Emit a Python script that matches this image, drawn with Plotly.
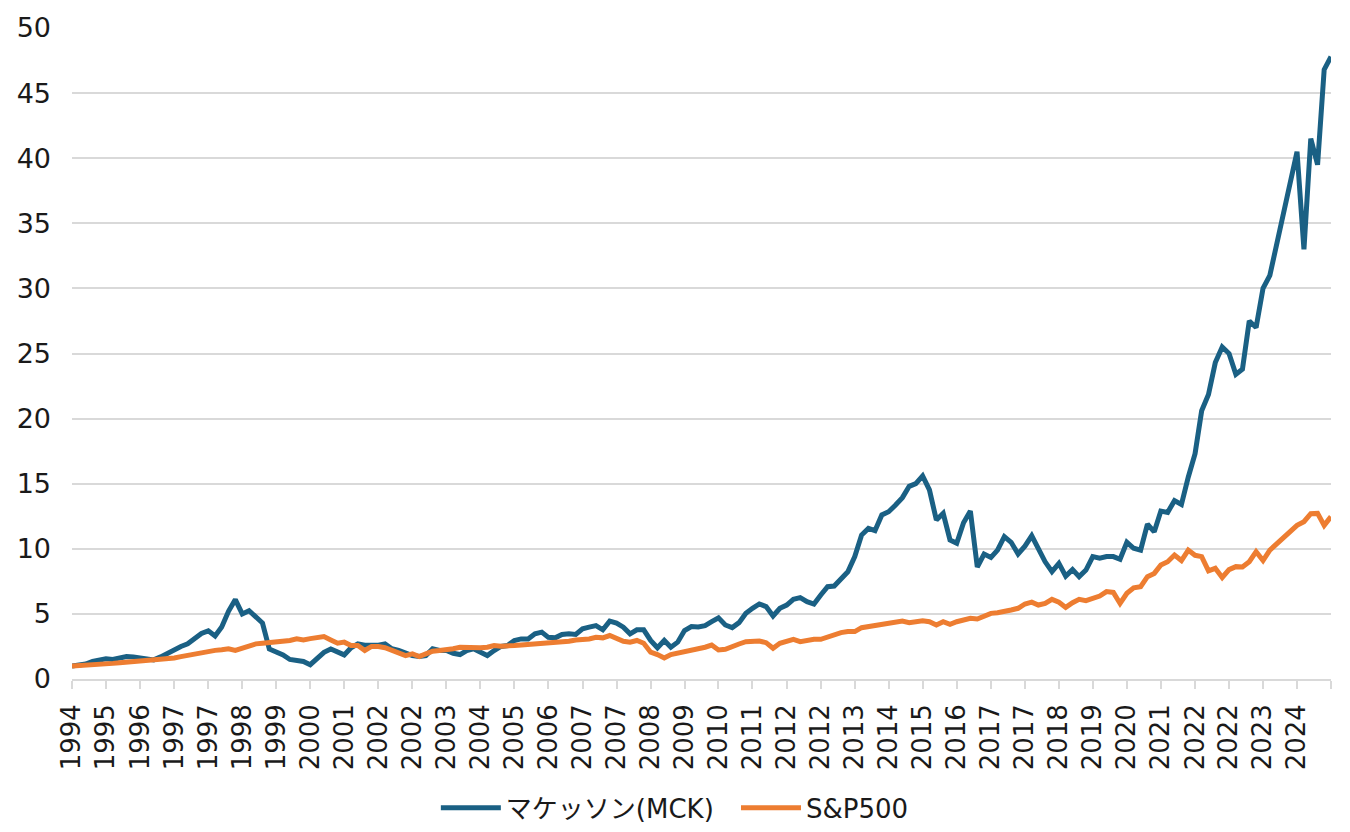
import pandas as pd
import plotly.graph_objects as go

# Bi-monthly samples, Jul 1994 -> May 2025 (normalised, start = 1)
mck = [
    1.00, 1.05, 1.15, 1.35, 1.45, 1.55, 1.50, 1.60, 1.73, 1.70,
    1.62, 1.60, 1.47, 1.70, 2.00, 2.20, 2.50, 2.70, 3.10, 3.50,
    3.70, 3.30, 4.00, 5.20, 6.10, 5.00, 5.25, 4.80, 4.30, 2.30,
    2.10, 1.85, 1.50, 1.45, 1.35, 1.10, 1.60, 2.05, 2.30, 2.06,
    1.85, 2.40, 2.70, 2.60, 2.60, 2.60, 2.70, 2.32, 2.19, 1.98,
    1.80, 1.73, 1.80, 2.32, 2.19, 2.19, 1.98, 1.88, 2.19, 2.32,
    2.06, 1.80, 2.19, 2.50, 2.57, 2.96, 3.08, 3.08, 3.47, 3.60,
    3.20, 3.16, 3.42, 3.47, 3.42, 3.85, 3.98, 4.10, 3.78, 4.44,
    4.29, 3.98, 3.47, 3.78, 3.78, 2.96, 2.40, 2.96, 2.44, 2.83,
    3.72, 4.03, 4.00, 4.10, 4.40, 4.70, 4.15, 3.95, 4.33, 5.04,
    5.43, 5.76, 5.56, 4.84, 5.43, 5.68, 6.12, 6.25, 5.94, 5.76,
    6.45, 7.09, 7.14, 7.73, 8.24, 9.40, 11.06, 11.57, 11.39, 12.60,
    12.85, 13.36, 13.93, 14.80, 15.00, 15.60, 14.52, 12.21, 12.72, 10.68,
    10.42, 12.00, 12.90, 8.60, 9.60, 9.34, 9.90, 10.93, 10.50, 9.60,
    10.20, 11.00, 10.00, 9.00, 8.24, 8.88, 7.90, 8.40, 7.86, 8.37,
    9.40, 9.27, 9.40, 9.40, 9.20, 10.50, 10.04, 9.90, 11.90, 11.30,
    12.90, 12.80, 13.70, 13.40, 15.50, 17.30, 20.60, 21.85, 24.30, 25.50,
    25.00, 23.40, 23.80, 27.50, 27.00, 30.00, 31.00, 33.50, 35.70, 38.00,
    40.50, 33.00, 41.50, 39.50, 46.80, 47.80,
]

sp500 = [
    1.00, 1.02, 1.05, 1.08, 1.12, 1.16, 1.20, 1.25, 1.30, 1.34,
    1.37, 1.38, 1.42, 1.48, 1.55, 1.62, 1.72, 1.83, 1.93, 2.00,
    2.14, 2.20, 2.25, 2.32, 2.19, 2.35, 2.57, 2.70, 2.75, 2.80,
    2.83, 2.87, 2.96, 3.08, 3.00, 3.10, 3.16, 3.26, 3.00, 2.75,
    2.83, 2.57, 2.57, 2.19, 2.50, 2.50, 2.40, 2.19, 1.93, 1.80,
    1.93, 1.73, 1.93, 2.14, 2.19, 2.24, 2.32, 2.44, 2.40, 2.40,
    2.40, 2.44, 2.57, 2.52, 2.50, 2.57, 2.62, 2.65, 2.70, 2.75,
    2.75, 2.75, 2.83, 2.90, 3.00, 3.00, 3.08, 3.20, 3.16, 3.34,
    3.16, 2.90, 2.83, 2.96, 2.75, 2.06, 1.88, 1.62, 1.88, 1.98,
    2.14, 2.24, 2.32, 2.44, 2.61, 2.23, 2.28, 2.53, 2.69, 2.87,
    2.92, 2.92, 2.79, 2.36, 2.74, 2.87, 3.05, 2.87, 3.00, 3.05,
    3.05, 3.25, 3.38, 3.56, 3.64, 3.64, 3.94, 4.02, 4.15, 4.20,
    4.28, 4.33, 4.45, 4.33, 4.45, 4.48, 4.40, 4.15, 4.40, 4.20,
    4.40, 4.53, 4.66, 4.61, 4.84, 5.04, 5.09, 5.17, 5.30, 5.43,
    5.76, 5.90, 5.68, 5.81, 6.12, 5.90, 5.50, 5.86, 6.12, 6.02,
    6.20, 6.37, 6.71, 6.65, 5.80, 6.58, 7.00, 7.09, 7.86, 8.11,
    8.76, 9.01, 9.52, 9.10, 9.90, 9.50, 9.40, 8.30, 8.50, 7.80,
    8.40, 8.63, 8.60, 9.01, 9.78, 9.10, 9.90, 10.40, 10.80, 11.32,
    11.80, 12.08, 12.70, 12.72, 11.80, 12.47,
]

tick_labels = [
    "1994", "1995", "1996", "1997", "1997", "1998", "1999", "2000", "2001",
    "2002", "2002", "2003", "2004", "2005", "2006", "2007", "2007", "2008",
    "2009", "2010", "2011", "2012", "2012", "2013", "2014", "2015", "2016",
    "2017", "2017", "2018", "2019", "2020", "2021", "2022", "2022", "2023",
    "2024", "",
]

series_names = ["マケッソン(MCK)", "S&P500"]
colors = ["#1A6084", "#ED7D31"]

dates = pd.date_range("1994-07-01", periods=len(mck), freq="2MS")
tick_dates = pd.date_range("1994-07-01", periods=len(tick_labels), freq="10MS")

FONT = "DejaVu Sans, Noto Sans CJK JP"
TXT = "#1a1a1a"

fig = go.Figure()
for i, (name, vals, col) in enumerate(zip(series_names, [mck, sp500], colors)):
    fig.add_trace(go.Scatter(
        x=dates, y=vals, mode="lines", name=name,
        line=dict(color=col, width=5, shape="linear"),
        legend="legend" if i == 0 else "legend2",
    ))

legend_common = dict(
    orientation="h", yanchor="middle", y=-0.198, xanchor="left",
    font=dict(family=FONT, size=26, color=TXT),
    itemwidth=60, bgcolor="rgba(0,0,0,0)",
)

fig.update_layout(
    width=1342, height=824,
    margin=dict(l=64, r=19, t=20, b=153, autoexpand=False),
    paper_bgcolor="white", plot_bgcolor="white",
    font=dict(family=FONT, size=26, color=TXT),
    showlegend=True,
    legend=dict(x=0.289, **legend_common),
    legend2=dict(x=0.5274, **legend_common),
    xaxis=dict(
        range=[tick_dates[0], tick_dates[-1]],
        tickmode="array", tickvals=tick_dates, ticktext=tick_labels,
        tickangle=-90, tickfont=dict(family=FONT, size=26, color=TXT),
        showgrid=False, showline=True, linecolor="#d9d9d9", linewidth=1.5,
        ticks="outside", ticklen=8, tickcolor="#d9d9d9", tickwidth=1.5,
        zeroline=False, ticklabelstandoff=5,
    ),
    yaxis=dict(
        range=[0, 50], tickmode="array", tickvals=list(range(0, 51, 5)),
        showgrid=True, gridcolor="#d9d9d9", gridwidth=1.5,
        zeroline=False, showline=False, ticks="",
        tickfont=dict(family=FONT, size=27, color=TXT),
        ticklabelstandoff=20,
    ),
)

fig.write_html("out.html")
